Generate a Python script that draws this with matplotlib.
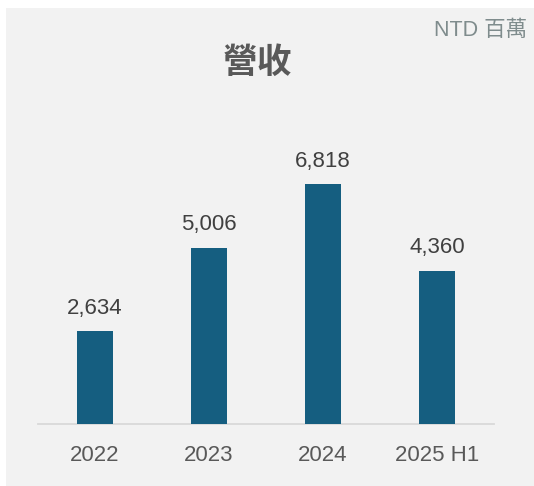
import matplotlib
matplotlib.use("Agg")
import matplotlib.pyplot as plt
from matplotlib.patches import Rectangle

# data
years = ["2022", "2023", "2024", "2025 H1"]
revenue = [2634, 5006, 6818, 4360]

bar_color = "#155e80"
fonts = ["Liberation Sans", "Noto Sans CJK TC", "DejaVu Sans"]
plt.rcParams['font.family'] = fonts

fig = plt.figure(figsize=(5.34, 4.86), dpi=100)
fig.patch.set_facecolor("white")
# grey panel behind the chart
fig.patches.append(Rectangle((6/534, 0), 1 - 6/534, (486 - 8)/486,
                             transform=fig.transFigure, facecolor="#f2f2f2",
                             edgecolor="none", zorder=-5))

ax = fig.add_axes([38/534, 62/486, 456/534, 0.5794])
ax.set_facecolor("none")
ax.set_zorder(2)
x = range(len(years))
bars = ax.bar(x, revenue, width=0.31, color=bar_color, zorder=3)

for xi, v in zip(x, revenue):
    ax.annotate(f"{v:,}", (xi, v), xytext=(0, 9), textcoords="offset points",
                ha="center", va="bottom", fontsize=16, color="#404040")

ax.set_xlim(-0.5, 3.5)
ax.set_ylim(0, 8000)
ax.set_xticks(list(x))
ax.set_xticklabels(years, fontsize=16, color="#595959")
ax.tick_params(axis="x", length=0, pad=15)
ax.set_yticks([])
for s in ["top", "right", "left"]:
    ax.spines[s].set_visible(False)
ax.spines["bottom"].set_color("#d9d9d9")
ax.spines["bottom"].set_linewidth(1.3)

fig.text(257/534, 1 - 62/486, "營收", ha="center", va="center", fontsize=25,
         fontweight="bold", color="#595959", family=["Noto Sans CJK TC"])
fig.text(527/534, 1 - 30/486, "NTD 百萬", ha="right", va="center", fontsize=15.5,
         color="#7f8c8d", family=fonts)

fig.savefig("out.png", dpi=100)
